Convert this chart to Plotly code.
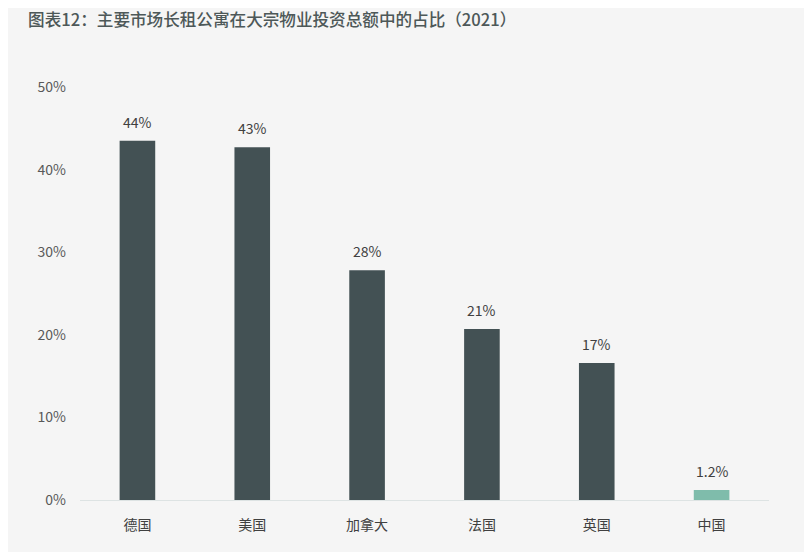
import plotly.graph_objects as go

categories = ["德国", "美国", "加拿大", "法国", "英国", "中国"]
values = [43.5, 42.7, 27.8, 20.7, 16.6, 1.2]
labels = ["44%", "43%", "28%", "21%", "17%", "1.2%"]
colors = ["#435154", "#435154", "#435154", "#435154", "#435154", "#7fbcab"]
yticks = [0, 10, 20, 30, 40, 50]
yticklabels = ["0%", "10%", "20%", "30%", "40%", "50%"]

font = "Noto Sans CJK SC, Noto Sans, sans-serif"
title_font = "Noto Sans CJK SC Medium, Noto Sans CJK SC, sans-serif"

fig = go.Figure(go.Bar(
    x=categories, y=values,
    marker=dict(color=colors, line=dict(width=0)),
    hoverinfo="skip",
))
for c, v, t in zip(categories, values, labels):
    fig.add_annotation(x=c, y=v, text=t, showarrow=False, yanchor="middle",
                       yshift=19, font=dict(size=14, color="#404040", family=font))

fig.update_layout(
    width=804, height=544,
    paper_bgcolor="#f5f5f5", plot_bgcolor="#f5f5f5",
    margin=dict(l=72, r=43, t=79, b=52),
    bargap=0.69,
    showlegend=False,
    title=dict(text="图表12：主要市场长租公寓在大宗物业投资总额中的占比（2021）",
               x=0.025, xanchor="left", y=0.978, yanchor="middle",
               font=dict(size=16.6, color="#4d5858", family=title_font, weight=500)),
    font=dict(family=font),
)
fig.update_yaxes(range=[0, 50], tickvals=yticks, ticktext=yticklabels,
                 showgrid=False, zeroline=False, showline=False,
                 tickfont=dict(size=14, color="#595959"), ticks="",
                 ticklabelstandoff=13)
fig.update_xaxes(showgrid=False, showline=True, linecolor="#dde3e3", linewidth=1,
                 ticks="", tickfont=dict(size=14, color="#404040"),
                 ticklabelstandoff=12)
fig.write_html("out.html")
